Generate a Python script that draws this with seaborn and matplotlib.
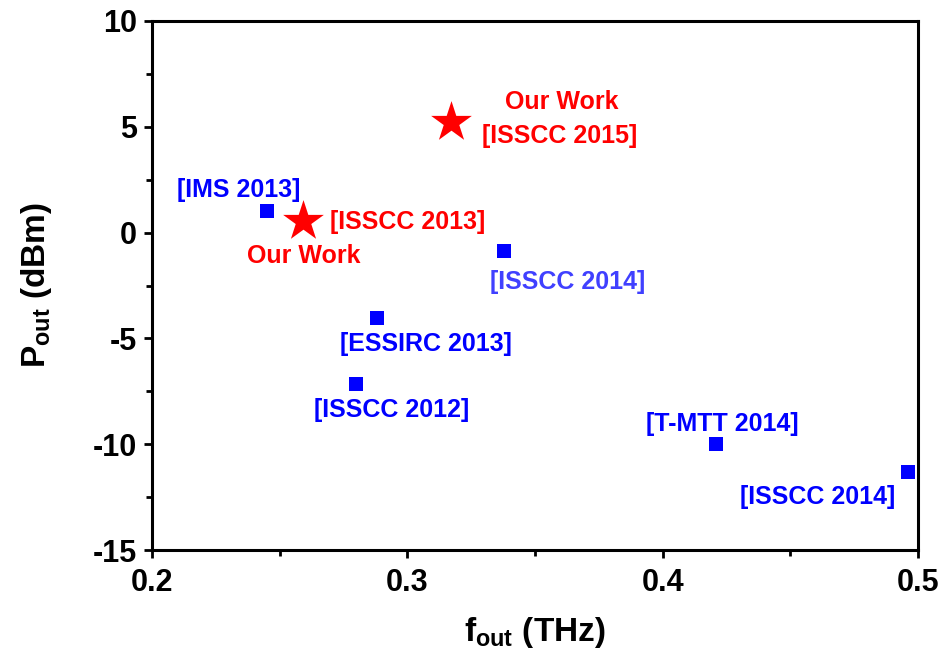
import matplotlib
matplotlib.use("Agg")
import matplotlib.pyplot as plt
from matplotlib.ticker import MultipleLocator
import seaborn as sns
import pandas as pd

# Reference works (blue squares)
ref_labels = ["[IMS 2013]", "[ISSCC 2014]", "[ESSIRC 2013]", "[ISSCC 2012]", "[T-MTT 2014]", "[ISSCC 2014]"]
ref_freq = [0.245, 0.338, 0.288, 0.280, 0.421, 0.496]
ref_pout = [1.0, -0.85, -4.05, -7.15, -10.0, -11.3]
ref_label_x = [0.234, 0.3626, 0.3073, 0.294, 0.4233, 0.4605]
ref_label_y = [1.99, -2.32, -5.27, -8.40, -9.06, -12.48]
ref_label_colors = ["#0000ff", "#4040ff", "#0000ff", "#0000ff", "#0000ff", "#0000ff"]

# Our works (red stars)
our_freq = [0.259, 0.317]
our_pout = [0.55, 5.25]
our_texts = ["Our Work", "[ISSCC 2013]", "Our Work", "[ISSCC 2015]"]
our_text_x = [0.2595, 0.300, 0.3606, 0.3598]
our_text_y = [-1.09, 0.52, 6.17, 4.55]

sns.set_style("ticks")
plt.rcParams["font.family"] = ["Liberation Sans", "DejaVu Sans"]
plt.rcParams["font.weight"] = "bold"
plt.rcParams["text.color"] = "black"
plt.rcParams["axes.labelcolor"] = "black"
plt.rcParams["xtick.color"] = "black"
plt.rcParams["ytick.color"] = "black"
plt.rcParams["mathtext.fontset"] = "custom"
plt.rcParams["mathtext.rm"] = "Liberation Sans:bold"
plt.rcParams["mathtext.bf"] = "Liberation Sans:bold"
plt.rcParams["mathtext.it"] = "Liberation Sans:bold"

fig = plt.figure(figsize=(9.52, 6.61), dpi=100)
ax = fig.add_axes([152/952, 1-550/661, (918-152)/952, (550-21)/661])

ref_df = pd.DataFrame({"f": ref_freq, "p": ref_pout})
our_df = pd.DataFrame({"f": our_freq, "p": our_pout})
sns.scatterplot(data=ref_df, x="f", y="p", marker="s", color="#0000ff", s=95, linewidth=0, ax=ax, zorder=3)
sns.scatterplot(data=our_df, x="f", y="p", marker="*", color="#ff0000", s=950, linewidth=0, ax=ax, zorder=3)

for t, x, y, c in zip(ref_labels, ref_label_x, ref_label_y, ref_label_colors):
    ax.text(x, y, t, color=c, fontsize=18, fontweight="bold", ha="center", va="center")
for t, x, y in zip(our_texts, our_text_x, our_text_y):
    ax.text(x, y, t, color="#ff0000", fontsize=18, fontweight="bold", ha="center", va="center")

ax.set_xlim(0.2, 0.5)
ax.set_ylim(-15, 10)
ax.xaxis.set_major_locator(MultipleLocator(0.1))
ax.xaxis.set_minor_locator(MultipleLocator(0.05))
ax.yaxis.set_major_locator(MultipleLocator(5))
ax.yaxis.set_minor_locator(MultipleLocator(2.5))
ax.set_xticks([0.2, 0.3, 0.4, 0.5])
ax.set_xticklabels(["0.2", "0.3", "0.4", "0.5"])
ax.set_yticks([-15, -10, -5, 0, 5, 10])
ax.set_yticklabels(["-15", "-10", "-5", "0", "5", "10"])

for sp in ax.spines.values():
    sp.set_linewidth(2.2)
    sp.set_color("black")
ax.tick_params(which="major", direction="out", length=6, width=2, labelsize=22, color="black", pad=5)
ax.tick_params(axis="x", which="major", pad=7)
ax.tick_params(which="minor", direction="out", length=4, width=2, color="black")
ax.tick_params(top=False, right=False)
for lab in ax.get_xticklabels() + ax.get_yticklabels():
    lab.set_fontweight("bold")

ax.set_xlabel(r"f$_{\mathrm{out}}$ (THz)", fontsize=24, fontweight="bold", labelpad=12)
ax.set_ylabel(r"P$_{\mathrm{out}}$ (dBm)", fontsize=24, fontweight="bold", labelpad=28)

fig.savefig("out.png", dpi=100)
